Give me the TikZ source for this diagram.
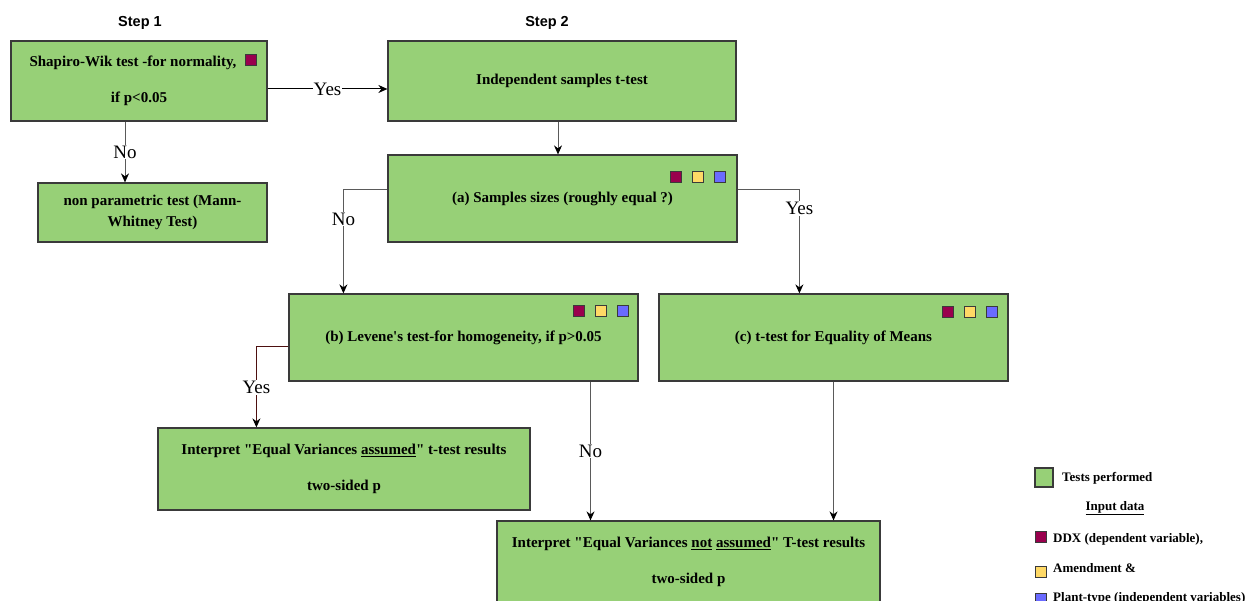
\documentclass[tikz,border=0pt]{standalone}
\usepackage{fontspec}
\setmainfont{Liberation Serif}
\setsansfont{Liberation Sans}
% serif face without TeX quote ligatures, so " and ' stay straight
\newfontfamily\plainserif{Liberation Serif}
\usetikzlibrary{arrows.meta}

\definecolor{boxgreen}{HTML}{97D077}
\definecolor{boxline}{HTML}{3A3A3A}
\definecolor{ddxcol}{HTML}{99004D}
\definecolor{amendcol}{HTML}{FFD966}
\definecolor{plantcol}{HTML}{6A6AFF}
\definecolor{wire}{HTML}{5A5A5A}
\definecolor{wirered}{HTML}{4D1010}

\tikzset{
  testbox/.style={draw=boxline, line width=1.2pt, fill=boxgreen, inner sep=0pt,
    align=center, font=\plainserif\fontsize{15}{17}\selectfont\bfseries},
  flow/.style={draw=wire, line width=1pt, -{Stealth[length=9pt,width=8pt,color=black]}},
  answer/.style={fill=white, inner sep=1pt, font=\plainserif\fontsize{19}{21}\selectfont},
  steplabel/.style={font=\sffamily\bfseries\fontsize{14.5}{16}\selectfont},
  chip/.style={draw=boxline, line width=0.8pt},
  legendtext/.style={anchor=west, inner sep=0pt, font=\plainserif\fontsize{13}{15}\selectfont\bfseries},
}

% three input-data markers (dependent variable, amendment, plant type)
\newcommand\inputchips[2]{%
  \draw[chip, fill=ddxcol]   (#1-5.5,#2-5.5) rectangle ++(11,11);
  \draw[chip, fill=amendcol] (#1+16.5,#2-5.5) rectangle ++(11,11);
  \draw[chip, fill=plantcol] (#1+38.5,#2-5.5) rectangle ++(11,11);
}

\begin{document}
\begin{tikzpicture}[x=1pt, y=-1pt]
\useasboundingbox (0,0) rectangle (1246,601);

% step headings
\node[steplabel] (step1) at (140,23) {Step 1};
\node[steplabel] (step2) at (547,23) {Step 2};

% test boxes
\node[testbox, minimum width=256pt, minimum height=80pt] (shapiro) at (139,81)
  {Shapiro-Wik test -for normality,\hspace*{12pt}\\[19pt]if p<0.05};
\draw[chip, fill=ddxcol] (245,54) rectangle ++(11,11);

\node[testbox, minimum width=229pt, minimum height=59pt] (nonpar) at (152.5,212.5)
  {non parametric test (Mann-\\[4pt]Whitney Test)};

\node[testbox, minimum width=348pt, minimum height=80pt] (indep) at (562,81)
  {Independent samples t-test};

\node[testbox, minimum width=349pt, minimum height=87pt] (sizes) at (562.5,198.5)
  {(a) Samples sizes (roughly equal ?)};
\inputchips{675.5}{177}

\node[testbox, minimum width=349pt, minimum height=87pt] (levene) at (463.5,337.5)
  {(b) Levene's test-for homogeneity, if p>0.05};
\inputchips{579}{310.5}

\node[testbox, minimum width=349pt, minimum height=87pt] (means) at (833.5,337.5)
  {(c) t-test for Equality of Means};
\inputchips{947.5}{311.5}

\node[testbox, minimum width=372pt, minimum height=82pt] (eqyes) at (344,469)
  {Interpret "Equal Variances \underline{assumed}" t-test results\\[19pt]two-sided p};

\node[testbox, minimum width=383pt, minimum height=82pt] (eqno) at (688.5,562)
  {Interpret "Equal Variances \underline{not} \underline{assumed}" T-test results\\[19pt]two-sided p};

% connectors
\draw[flow, draw=black] ([yshift=-8pt]shapiro.east) -- ([yshift=-8pt]indep.west)
  node[answer, pos=0.5] {Yes};
\draw[flow] ([xshift=-14pt]shapiro.south) -- ([xshift=-14pt]shapiro.south |- nonpar.north)
  node[answer, pos=0.5] {No};
\draw[flow] ([xshift=-4pt]indep.south) -- ([xshift=-4pt]indep.south |- sizes.north);
\draw[flow] ([yshift=8.5pt]sizes.west) -| ([xshift=55pt]levene.north west)
  node[answer, pos=0.64] {No};
\draw[flow] ([yshift=8.5pt]sizes.east) -| ([xshift=141pt]means.north west)
  node[answer, pos=0.59] {Yes};
\draw[flow, draw=wirered] ([yshift=-8.5pt]levene.west) -| ([xshift=99pt]eqyes.north west)
  node[answer, pos=0.755] {Yes};
\draw[flow] ([xshift=127pt]levene.south) -- ([xshift=127pt]levene.south |- eqno.north)
  node[answer, pos=0.5] {No};
\draw[flow] (means.south) -- (means.south |- eqno.north);

% legend
\draw[chip, line width=1.2pt, fill=boxgreen] (1035,468) rectangle (1053,487);
\node[legendtext] (lgtests) at (1062,478) {Tests performed};
\node[legendtext, anchor=center] (lginput) at (1115,508) {\underline{Input data}};
\draw[chip, fill=ddxcol] (1035,531) rectangle ++(11,11);
\node[legendtext] (lgddx) at (1053,539) {DDX (dependent variable),};
\draw[chip, fill=amendcol] (1035,566) rectangle ++(11,11);
\node[legendtext] (lgamend) at (1053,568) {Amendment \&};
\draw[chip, fill=plantcol] (1035,593) rectangle ++(11,11);
\node[legendtext] (lgplant) at (1053,598) {Plant-type (independent variables)};
\end{tikzpicture}
\end{document}
